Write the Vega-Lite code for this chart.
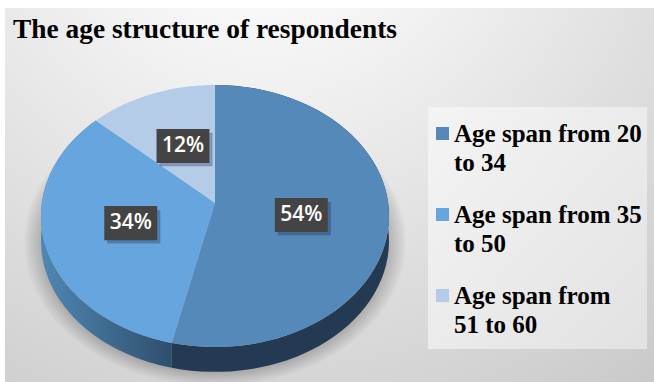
{
  "$schema": "https://vega.github.io/schema/vega-lite/v6.json",
  "autosize": "none",
  "width": 649,
  "height": 374,
  "padding": {"left": 5, "top": 8, "right": 0, "bottom": 0},
  "background": "#ffffff",
  "config": {"style": {"guide-label": {"lineHeight": 29}}},
  "view": {
    "stroke": null,
    "fill": {
      "gradient": "radial",
      "x1": 0.4, "y1": 0, "r1": 0,
      "x2": 0.4, "y2": 0, "r2": 1.05,
      "stops": [
        {"offset": 0, "color": "#ffffff"},
        {"offset": 0.2, "color": "#f8f8f8"},
        {"offset": 1, "color": "#c6c6c6"}
      ]
    }
  },
  "title": {
    "text": "The age structure of respondents",
    "anchor": "start",
    "frame": "group",
    "orient": "top",
    "offset": -30,
    "dx": 8,
    "dy": 27,
    "font": "Liberation Serif",
    "fontSize": 27.4,
    "fontWeight": "bold",
    "color": "#000000",
    "baseline": "alphabetic"
  },
  "data": {
    "values": [
      {"age_group": "Age span from 20 to 34", "share": 54},
      {"age_group": "Age span from 35 to 50", "share": 34},
      {"age_group": "Age span from 51 to 60", "share": 12}
    ]
  },
  "transform": [
    {"window": [{"op": "sum", "field": "share", "as": "running"}]},
    {"calculate": "(datum.running - datum.share) / 100 * 2 * PI", "as": "a0"},
    {"calculate": "datum.running / 100 * 2 * PI", "as": "a1"},
    {"calculate": "(datum.a0 + datum.a1) / 2", "as": "mid"},
    {"calculate": "0.5 * sin(datum.mid)", "as": "lx"},
    {"calculate": "0.07 + 0.5 * cos(datum.mid)", "as": "ly"},
    {"calculate": "datum.share + '%'", "as": "label"}
  ],
  "encoding": {
    "x": {"field": "px", "type": "quantitative", "axis": null, "scale": {"domain": [-1.2069, 2.523], "nice": false, "zero": false}},
    "y": {"field": "py", "type": "quantitative", "axis": null, "scale": {"domain": [-1.267, 1.588], "nice": false, "zero": false}}
  },
  "layer": [
    {
      "transform": [
        {"filter": "datum.a0 === 0"},
        {"calculate": "1.224", "as": "bx0"},
        {"calculate": "2.483", "as": "bx1"},
        {"calculate": "-1.015", "as": "by0"},
        {"calculate": "0.832", "as": "by1"}
      ],
      "mark": {
        "type": "rect",
        "fill": {
          "gradient": "linear", "x1": 0, "y1": 0, "x2": 1, "y2": 1,
          "stops": [
            {"offset": 0, "color": "#f4f4f4"},
            {"offset": 1, "color": "#e2e2e2"}
          ]
        }
      },
      "encoding": {
        "x": {"field": "bx0", "type": "quantitative"},
        "x2": {"field": "bx1"},
        "y": {"field": "by0", "type": "quantitative"},
        "y2": {"field": "by1"}
      }
    },
    {
      "transform": [
        {"filter": "datum.a0 === 0"},
        {"calculate": "[1.0, 1.012, 1.024, 1.036, 1.048, 1.06, 1.072, 1.084, 1.096]", "as": "ring"},
        {"flatten": ["ring"]},
        {"calculate": "sequence(0, 121)", "as": "k"},
        {"flatten": ["k"]},
        {"calculate": "datum.ring * sin(datum.k / 120 * 2 * PI)", "as": "px"},
        {"calculate": "-0.2 + datum.ring * cos(datum.k / 120 * 2 * PI)", "as": "py"}
      ],
      "mark": {"type": "line", "fill": "#000000", "fillOpacity": 0.022, "strokeWidth": 0},
      "encoding": {
        "detail": {"field": "ring"},
        "order": {"field": "k", "type": "quantitative"}
      }
    },
    {
      "transform": [
        {"filter": "datum.share === 34"},
        {"calculate": "sequence(0, 122)", "as": "k"},
        {"flatten": ["k"]},
        {"calculate": "datum.k <= 60 ? datum.k / 60 : (121 - datum.k) / 60", "as": "t"},
        {"calculate": "datum.a0 + datum.t * (datum.a1 - datum.a0)", "as": "ang"},
        {"calculate": "sin(datum.ang)", "as": "px"},
        {"calculate": "cos(datum.ang) - (datum.k <= 60 ? 0 : 0.19)", "as": "py"}
      ],
      "mark": {
        "type": "line",
        "strokeWidth": 0,
        "fill": {
          "gradient": "linear", "x1": 0, "y1": 0, "x2": 1, "y2": 0,
          "stops": [
            {"offset": 0, "color": "#4f87b5"},
            {"offset": 1, "color": "#2f4f6c"}
          ]
        }
      },
      "encoding": {"order": {"field": "k", "type": "quantitative"}}
    },
    {
      "transform": [
        {"filter": "datum.share === 54"},
        {"calculate": "sequence(0, 122)", "as": "k"},
        {"flatten": ["k"]},
        {"calculate": "datum.k <= 60 ? datum.k / 60 : (121 - datum.k) / 60", "as": "t"},
        {"calculate": "datum.a0 + datum.t * (datum.a1 - datum.a0)", "as": "ang"},
        {"calculate": "sin(datum.ang)", "as": "px"},
        {"calculate": "cos(datum.ang) - (datum.k <= 60 ? 0 : 0.19)", "as": "py"}
      ],
      "mark": {"type": "line", "strokeWidth": 0, "fill": "#243a52"},
      "encoding": {"order": {"field": "k", "type": "quantitative"}}
    },
    {
      "transform": [
        {"calculate": "sequence(0, 62)", "as": "k"},
        {"flatten": ["k"]},
        {"calculate": "datum.a0 + (datum.k - 1) / 59 * (datum.a1 - datum.a0)", "as": "ang"},
        {"calculate": "datum.k === 0 || datum.k === 61 ? 0 : sin(datum.ang)", "as": "px"},
        {"calculate": "datum.k === 0 || datum.k === 61 ? 0.1 : cos(datum.ang)", "as": "py"}
      ],
      "mark": {"type": "line", "strokeWidth": 0},
      "encoding": {
        "fill": {
          "field": "age_group",
          "type": "nominal",
          "sort": null,
          "scale": {
            "domain": ["Age span from 20 to 34", "Age span from 35 to 50", "Age span from 51 to 60"],
            "range": ["#5589b9", "#66a5dd", "#b5cce9"]
          },
          "legend": {
            "title": null,
            "orient": "none",
            "legendX": 423,
            "legendY": 100,
            "padding": 13,
            "symbolType": "square",
            "symbolSize": 169,
            "symbolStrokeWidth": 0,
            "symbolOffset": -11,
            "labelFont": "Liberation Serif",
            "labelFontSize": 25,
            "labelFontWeight": "bold",
            "labelColor": "#000000",
            "labelLimit": 300,
            "labelOffset": -1,
            "rowPadding": 26,
            "labelBaseline": "middle",
            "labelExpr": "test(/from 51/, datum.label) ? ['Age span from', '51 to 60'] : [slice(datum.label, 0, 16), slice(datum.label, 17)]"
          }
        },
        "order": {"field": "k", "type": "quantitative"}
      }
    },
    {
      "transform": [
        {"calculate": "datum.lx - 0.135", "as": "bx0"},
        {"calculate": "datum.lx + 0.17", "as": "bx1"},
        {"calculate": "datum.ly - 0.155", "as": "by0"},
        {"calculate": "datum.ly + 0.1", "as": "by1"}
      ],
      "mark": {"type": "rect", "fill": "#1f3550", "opacity": 0.35},
      "encoding": {
        "x": {"field": "bx0", "type": "quantitative"},
        "x2": {"field": "bx1"},
        "y": {"field": "by0", "type": "quantitative"},
        "y2": {"field": "by1"}
      }
    },
    {
      "transform": [
        {"calculate": "datum.lx - 0.152", "as": "bx0"},
        {"calculate": "datum.lx + 0.152", "as": "bx1"},
        {"calculate": "datum.ly - 0.13", "as": "by0"},
        {"calculate": "datum.ly + 0.13", "as": "by1"}
      ],
      "mark": {"type": "rect", "fill": "#444444"},
      "encoding": {
        "x": {"field": "bx0", "type": "quantitative"},
        "x2": {"field": "bx1"},
        "y": {"field": "by0", "type": "quantitative"},
        "y2": {"field": "by1"}
      }
    },
    {
      "mark": {"type": "text", "font": "Open Sans", "fontSize": 21, "fontWeight": 600, "color": "#ffffff", "align": "center", "baseline": "middle"},
      "encoding": {
        "x": {"field": "lx", "type": "quantitative"},
        "y": {"field": "ly", "type": "quantitative"},
        "text": {"field": "label"}
      }
    }
  ]
}
